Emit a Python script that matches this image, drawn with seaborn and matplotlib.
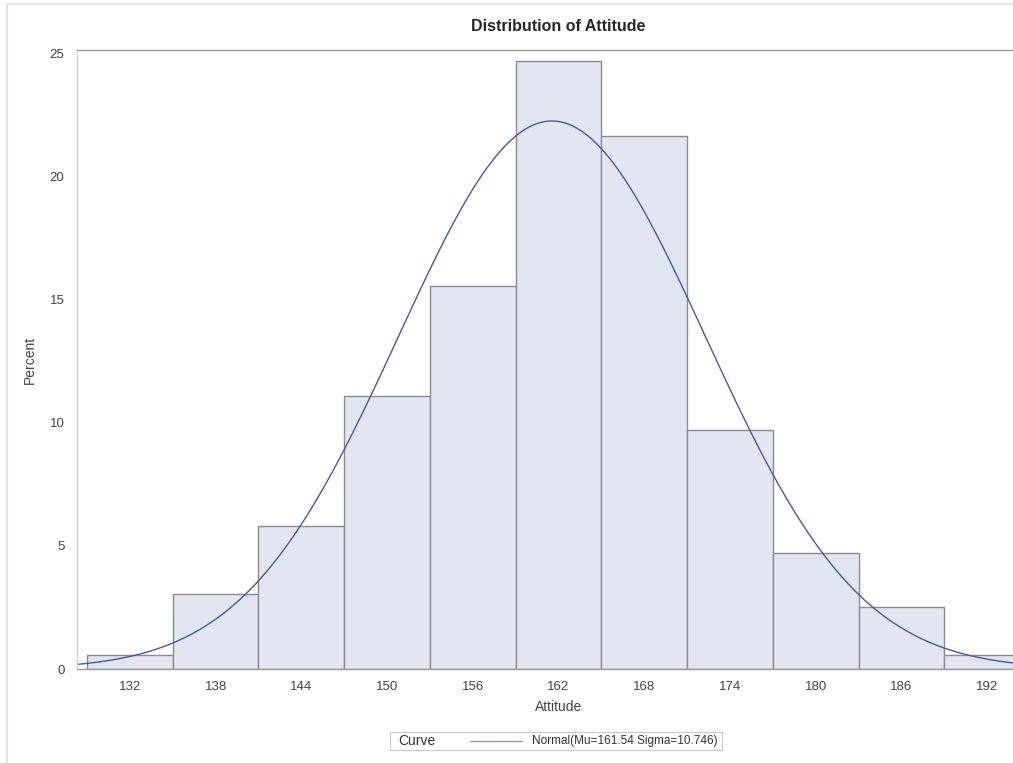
import numpy as np
import pandas as pd
import matplotlib
matplotlib.use('Agg')
import matplotlib.pyplot as plt
import seaborn as sns
from matplotlib.patches import Rectangle
from matplotlib.lines import Line2D

bin_centers = [132, 138, 144, 150, 156, 162, 168, 174, 180, 186, 192]
percents = [0.56, 3.06, 5.83, 11.11, 15.56, 24.72, 21.67, 9.72, 4.72, 2.50, 0.56]
x_ticks = [132, 138, 144, 150, 156, 162, 168, 174, 180, 186, 192]
y_ticks = [0, 5, 10, 15, 20, 25]

# Parâmetros da curva normal ajustada
mu = 161.54
sigma = 10.746
bin_width = 6

sns.set_style('white')
plt.rcParams['font.family'] = ['Liberation Sans', 'DejaVu Sans']

df = pd.DataFrame({'Attitude': bin_centers, 'Percent': percents})
edges = [c - bin_width / 2 for c in bin_centers] + [bin_centers[-1] + bin_width / 2]

fig = plt.figure(figsize=(10.13, 7.63), dpi=100)
ax = fig.add_axes([77 / 1013, 1 - 669 / 763, (1040 - 77) / 1013, (669 - 50) / 763])

sns.histplot(data=df, x='Attitude', weights='Percent', bins=edges, stat='count',
             color='#e1e6f0', alpha=1, edgecolor='#8a8c92', linewidth=1.0, ax=ax)

# Curva normal
xs = np.linspace(128.3, 195.7, 400)
curve = pd.DataFrame({'x': xs,
                      'y': 100 * bin_width * np.exp(-0.5 * ((xs - mu) / sigma) ** 2) / (sigma * np.sqrt(2 * np.pi))})
sns.lineplot(data=curve, x='x', y='y', color='#4a58a6', linewidth=1.0, ax=ax)

ax.set_xlim(128.3, 195.7)
ax.set_ylim(0, 25.16)
ax.set_xticks(x_ticks)
ax.set_yticks(y_ticks)
ax.tick_params(axis='both', direction='out', length=4, width=0.8, color='#a0a0a0',
               labelsize=9.5, labelcolor='#444444', pad=5)

ax.spines['left'].set_color('#d4d4d4')
for side in ['top', 'bottom']:
    ax.spines[side].set_color('#9a9a9a')
ax.spines['right'].set_visible(False)
for s in ax.spines.values():
    s.set_linewidth(1.0)

ax.set_xlabel('Attitude', fontsize=10, color='#444444', labelpad=5)
ax.set_ylabel('Percent', fontsize=10, color='#444444', labelpad=9)
ax.set_title('Distribution of Attitude', fontsize=11.5, fontweight='bold', pad=14)

# Legenda ao estilo SAS
fig.patches.append(Rectangle((390 / 1013, 1 - 750 / 763), 332 / 1013, 18 / 763,
                             transform=fig.transFigure, facecolor='white',
                             edgecolor='#c8c8c8', linewidth=0.8))
fig.text(398 / 1013, 1 - 741 / 763, 'Curve', fontsize=10, color='#333333', va='center')
fig.lines.append(Line2D([470 / 1013, 522 / 1013], [1 - 741 / 763, 1 - 741 / 763],
                        transform=fig.transFigure, color='#8a98c8', linewidth=1.0))
fig.text(532 / 1013, 1 - 741 / 763, 'Normal(Mu=161.54 Sigma=10.746)', fontsize=8.5,
         color='#333333', va='center')

# Moldura da imagem
fig.patches.append(Rectangle((7 / 1013, -0.01), 1.05, 1 - 4 / 763 + 0.01,
                             transform=fig.transFigure, facecolor='none',
                             edgecolor='#e4e4e4', linewidth=1.5))

plt.savefig('out.png', dpi=100)
